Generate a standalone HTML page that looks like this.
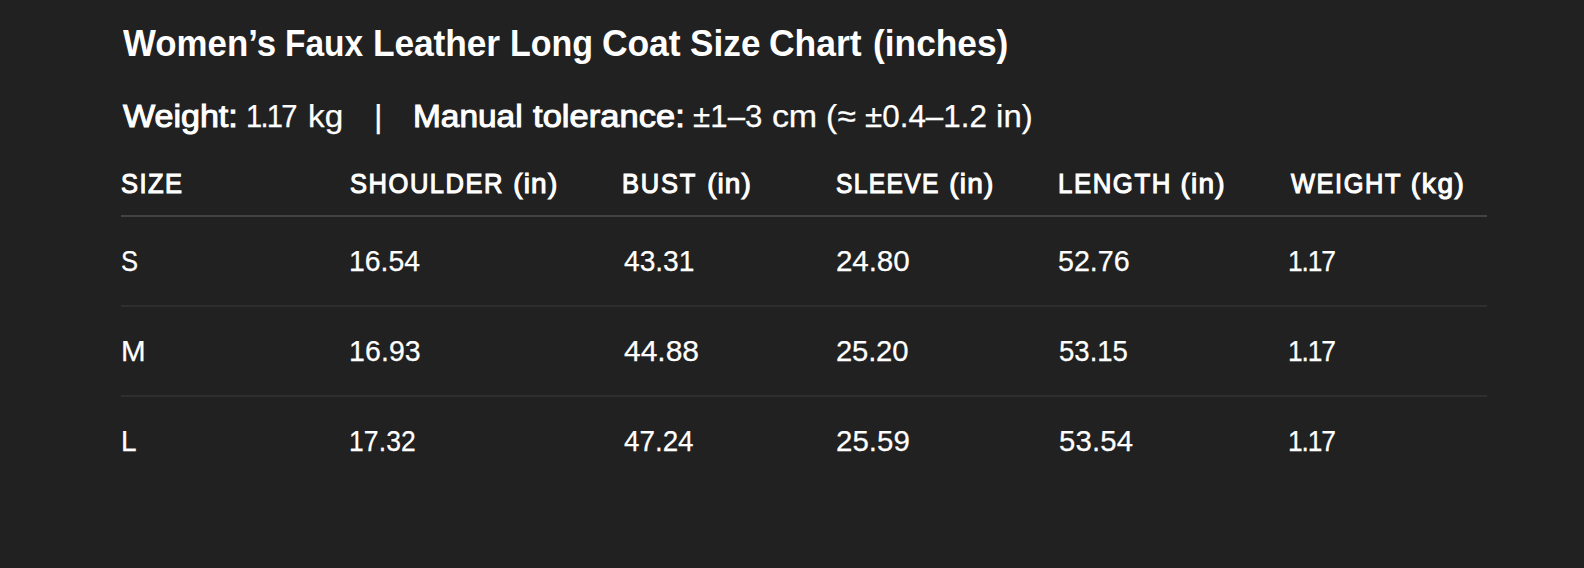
<!DOCTYPE html>
<html lang="en">
<head>
<meta charset="utf-8">
<title>Women’s Faux Leather Long Coat Size Chart (inches)</title>
<style>
  html, body { margin: 0; padding: 0; }
  body {
    width: 1584px; height: 568px; overflow: hidden;
    background: #212121; color: #ffffff;
    font-family: "Liberation Sans", sans-serif;
    position: relative;
  }
  h1, p { margin: 0; font: inherit; }
  .t { position: absolute; white-space: pre; line-height: 1; margin: 0; transform-origin: 0 0; }
  .ti { font-size: 36px; font-weight: 700; top: 26px; }
  .sb { font-size: 31px; font-weight: 400; -webkit-text-stroke: 1px #fff; top: 100.5px; }
  .sr { font-size: 32px; font-weight: 400; top: 100px; -webkit-text-stroke: 0.25px #fff; }
  .th { font-size: 28px; font-weight: 400; -webkit-text-stroke: 1.1px #fff; top: 170px; }
  .td { font-size: 29px; font-weight: 400; -webkit-text-stroke: 0.25px #fff; }
  .r1 { top: 247px; } .r2 { top: 337px; } .r3 { top: 427px; }
  .hr { position: absolute; left: 121px; width: 1366px; height: 2px; }
  .hr.h { top: 215px; background: #424242; }
  .hr.a { top: 305px; background: #2e2e2e; }
  .hr.b { top: 395px; background: #2e2e2e; }

</style>
</head>
<body>
<main>
<h1>
  <span class="t ti" style="left:122.64px;letter-spacing:0.027px;transform:scaleX(0.9675)">Women’s</span>
  <span class="t ti" style="left:284.56px;letter-spacing:0.045px;transform:scaleX(0.9289)">Faux</span>
  <span class="t ti" style="left:372.61px;letter-spacing:-0.078px;transform:scaleX(0.9808)">Leather</span>
  <span class="t ti" style="left:509.80px;letter-spacing:-0.025px;transform:scaleX(0.9448)">Long</span>
  <span class="t ti" style="left:601.79px;letter-spacing:-0.114px;transform:scaleX(0.9865)">Coat</span>
  <span class="t ti" style="left:689.65px;letter-spacing:0.082px;transform:scaleX(0.9745)">Size</span>
  <span class="t ti" style="left:768.70px;letter-spacing:0.015px;transform:scaleX(0.9849)">Chart</span>
  <span class="t ti" style="left:872.51px;letter-spacing:0.009px;transform:scaleX(0.9800)">(inches)</span>
</h1>
<p>
  <b class="t sb" style="left:122.82px;letter-spacing:-0.026px;transform:scaleX(1.0992)">Weight:</b>
  <span class="t sr" style="left:245.76px;letter-spacing:-1.954px;transform:scaleX(0.9100)">1.17</span>
  <span class="t sr" style="left:307.70px;letter-spacing:0.055px;transform:scaleX(1.0404)">kg</span>
  <span class="t sr" style="left:373.70px;transform:scaleX(1.0241)">|</span>
  <b class="t sb" style="left:412.67px;transform:scaleX(1.0775)">Manual</b>
  <b class="t sb" style="left:532.70px;letter-spacing:0.058px;transform:scaleX(1.1106)">tolerance:</b>
  <span class="t sr" style="left:692.80px;letter-spacing:0.112px;transform:scaleX(0.9732)">±1–3</span>
  <span class="t sr" style="left:771.67px;letter-spacing:-0.335px;transform:scaleX(1.0625)">cm</span>
  <span class="t sr" style="left:825.51px;letter-spacing:0.299px;transform:scaleX(1.0439)">(≈</span>
  <span class="t sr" style="left:864.61px;letter-spacing:0.004px;transform:scaleX(0.9807)">±0.4–1.2</span>
  <span class="t sr" style="left:995.75px;letter-spacing:0.079px;transform:scaleX(1.0281)">in)</span>
</p>
<section class="table">
<div class="row head">
  <span class="t th" style="left:120.54px;letter-spacing:1.621px;transform:scaleX(0.9098)">SIZE</span>
  <span class="t th" style="left:349.95px;letter-spacing:1.677px;transform:scaleX(0.9115)">SHOULDER</span>
  <span class="t th" style="left:513.13px;letter-spacing:1.216px">(in)</span>
  <span class="t th" style="left:621.78px;letter-spacing:1.957px;transform:scaleX(0.9095)">BUST</span>
  <span class="t th" style="left:707.13px;letter-spacing:1.057px">(in)</span>
  <span class="t th" style="left:835.74px;letter-spacing:1.508px;transform:scaleX(0.8800)">SLEEVE</span>
  <span class="t th" style="left:949.33px;letter-spacing:1.210px">(in)</span>
  <span class="t th" style="left:1057.68px;letter-spacing:1.658px;transform:scaleX(0.9223)">LENGTH</span>
  <span class="t th" style="left:1180.56px;letter-spacing:1.228px">(in)</span>
  <span class="t th" style="left:1290.67px;letter-spacing:1.749px;transform:scaleX(0.9070)">WEIGHT</span>
  <span class="t th" style="left:1410.79px;letter-spacing:1.638px">(kg)</span>
</div>
<div class="hr h"></div>
<div class="row">
  <span class="t td r1" style="left:120.60px;transform:scaleX(0.8800)">S</span>
  <span class="t td r1" style="left:348.70px;letter-spacing:0.018px;transform:scaleX(0.9793)">16.54</span>
  <span class="t td r1" style="left:623.74px;letter-spacing:-0.051px;transform:scaleX(0.9728)">43.31</span>
  <span class="t td r1" style="left:835.80px;letter-spacing:-0.098px;transform:scaleX(1.0202)">24.80</span>
  <span class="t td r1" style="left:1057.64px;letter-spacing:-0.014px;transform:scaleX(0.9887)">52.76</span>
  <span class="t td r1" style="left:1287.79px;letter-spacing:-1.234px;transform:scaleX(0.9100)">1.17</span>
</div>
<div class="hr a"></div>
<div class="row">
  <span class="t td r2" style="left:120.63px;transform:scaleX(1.0200)">M</span>
  <span class="t td r2" style="left:348.81px;letter-spacing:0.114px;transform:scaleX(0.9814)">16.93</span>
  <span class="t td r2" style="left:623.77px;letter-spacing:-0.029px;transform:scaleX(1.0354)">44.88</span>
  <span class="t td r2" style="left:835.80px;letter-spacing:-0.187px;transform:scaleX(1.0088)">25.20</span>
  <span class="t td r2" style="left:1058.70px;letter-spacing:-0.015px;transform:scaleX(0.9504)">53.15</span>
  <span class="t td r2" style="left:1287.79px;letter-spacing:-1.234px;transform:scaleX(0.9100)">1.17</span>
</div>
<div class="hr b"></div>
<div class="row">
  <span class="t td r3" style="left:120.50px;transform:scaleX(0.9652)">L</span>
  <span class="t td r3" style="left:348.73px;letter-spacing:0.156px;transform:scaleX(0.9129)">17.32</span>
  <span class="t td r3" style="left:623.50px;transform:scaleX(0.9583)">47.24</span>
  <span class="t td r3" style="left:835.77px;letter-spacing:0.014px;transform:scaleX(1.0159)">25.59</span>
  <span class="t td r3" style="left:1058.71px;letter-spacing:0.149px;transform:scaleX(1.0112)">53.54</span>
  <span class="t td r3" style="left:1287.79px;letter-spacing:-1.234px;transform:scaleX(0.9100)">1.17</span>
</div>
</section>
</main>
</body>
</html>
